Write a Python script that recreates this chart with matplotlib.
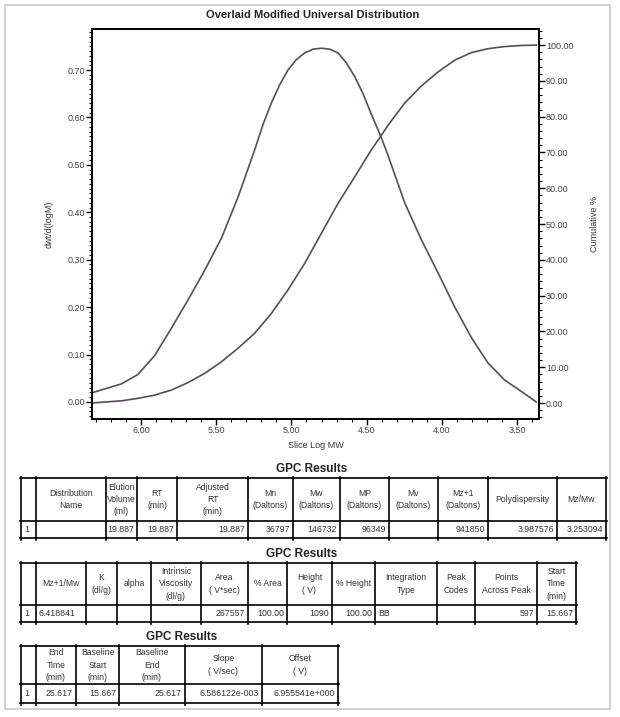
import matplotlib.pyplot as plt
import numpy as np
from matplotlib.ticker import MultipleLocator, FormatStrFormatter
from matplotlib.lines import Line2D
from matplotlib.patches import Rectangle

plt.rcParams['font.family'] = ['Liberation Sans', 'DejaVu Sans']

# Data
dist_logmw = [6.319, 6.131, 6.020, 5.909, 5.799, 5.688, 5.576, 5.466, 5.355, 5.244,
              5.189, 5.134, 5.078, 5.023, 4.967, 4.912, 4.856, 4.801, 4.745, 4.690,
              4.635, 4.579, 4.524, 4.469, 4.402, 4.358, 4.300, 4.247, 4.136, 4.025,
              3.914, 3.804, 3.693, 3.582, 3.471, 3.372]
dist_value = [0.020, 0.038, 0.058, 0.098, 0.155, 0.215, 0.278, 0.345, 0.432, 0.532,
              0.585, 0.630, 0.669, 0.700, 0.722, 0.736, 0.744, 0.746, 0.744, 0.736,
              0.715, 0.686, 0.650, 0.607, 0.557, 0.520, 0.468, 0.420, 0.342, 0.272,
              0.200, 0.136, 0.082, 0.046, 0.022, 0.000]

cum_logmw = [6.332, 6.131, 6.020, 5.909, 5.799, 5.688, 5.576, 5.466, 5.355, 5.244,
             5.134, 5.023, 4.912, 4.801, 4.690, 4.579, 4.469, 4.402, 4.358, 4.247,
             4.136, 4.025, 3.914, 3.804, 3.693, 3.582, 3.471, 3.372]
cum_pct = [0.0, 0.6, 1.3, 2.2, 3.6, 5.7, 8.3, 11.5, 15.3, 19.5,
           25.0, 31.6, 39.0, 47.4, 55.8, 63.2, 70.7, 74.8, 77.6, 83.8,
           88.6, 92.5, 95.8, 97.9, 99.0, 99.6, 99.9, 100.0]

# GPC result tables
t1_headers = ["", "Distribution\nName", "Elution\nVolume\n(ml)", "RT\n(min)", "Adjusted\nRT\n(min)",
              "Mn\n(Daltons)", "Mw\n(Daltons)", "MP\n(Daltons)", "Mv\n(Daltons)",
              "Mz+1\n(Daltons)", "Polydispersity", "Mz/Mw"]
t1_row = ["1", "", "19.887", "19.887", "19.887", "36797", "146732", "96349", "",
          "941850", "3.987576", "3.253094"]

t2_headers = ["", "Mz+1/Mw", "K\n(dl/g)", "alpha", "Intrinsic\nViscosity\n(dl/g)", "Area\n( V*sec)",
              "% Area", "Height\n( V)", "% Height", "Integration\nType", "Peak\nCodes",
              "Points\nAcross Peak", "Start\nTime\n(min)"]
t2_row = ["1", "6.418841", "", "", "", "267557", "100.00", "1090", "100.00", "BB", "",
          "597", "15.667"]

t3_headers = ["", "End\nTime\n(min)", "Baseline\nStart\n(min)", "Baseline\nEnd\n(min)",
              "Slope\n( V/sec)", "Offset\n( V)"]
t3_row = ["1", "25.617", "15.667", "25.617", "6.586122e-003", "6.955541e+000"]

W, H = 620, 717
fig = plt.figure(figsize=(W / 100, H / 100), dpi=100)


def fx(x):
    return x / W


def fy(y):
    return 1 - y / H


# page frame
fig.add_artist(Rectangle((fx(5), fy(709)), fx(605), (704) / H, fill=False,
                         edgecolor='#c8c8c8', lw=1.2, transform=fig.transFigure))

line_col = '#5a4a5c'
ax = fig.add_axes([fx(92), fy(419), fx(539 - 92), (419 - 29) / H])
ax.plot(dist_logmw, dist_value, color=line_col, lw=1.2)
ax.set_xlim(6.326, 3.354)
ax.xaxis.set_major_locator(MultipleLocator(0.5))
ax.xaxis.set_minor_locator(MultipleLocator(0.1))
ax.yaxis.set_major_locator(MultipleLocator(0.1))
ax.yaxis.set_minor_locator(MultipleLocator(0.01))
ax.xaxis.set_major_formatter(FormatStrFormatter('%.2f'))
ax.yaxis.set_major_formatter(FormatStrFormatter('%.2f'))
ax.set_ylim(-0.036, 0.7865)
ax.tick_params(which='major', direction='out', length=4, width=1, labelsize=6.5,
               labelcolor='#444444', pad=1)
ax.tick_params(which='minor', direction='out', length=2, width=0.8)
ax.set_xlabel('Slice Log MW', fontsize=6.5, color='#333333', labelpad=4)
ax.set_ylabel('dwt/d(logM)', fontsize=6.5, color='#333333', labelpad=10)
for s in ax.spines.values():
    s.set_linewidth(1.3)

ax2 = ax.twinx()
ax2.plot(cum_logmw, cum_pct, color=line_col, lw=1.2)
ax2.set_ylim(-4.47, 104.5)
ax2.yaxis.set_major_locator(MultipleLocator(10))
ax2.yaxis.set_minor_locator(MultipleLocator(2))
ax2.yaxis.set_major_formatter(FormatStrFormatter('%.2f'))
ax2.tick_params(which='major', direction='out', length=4, width=1, labelsize=6.5,
                labelcolor='#444444', pad=1)
ax2.tick_params(which='minor', direction='out', length=2, width=0.8)
ax2.set_ylabel('Cumulative %', fontsize=6.5, color='#333333', labelpad=12)
for s in ax2.spines.values():
    s.set_linewidth(1.3)

fig.text(fx(313), fy(15), 'Overlaid Modified Universal Distribution', ha='center', va='center',
         fontsize=8, fontweight='bold', color='#222222')


def draw_table(edges, top, mid, bottom, headers, row, left_cols, title, title_x, title_y):
    fig.text(fx(title_x), fy(title_y), title, ha='center', va='center', fontsize=8.5,
             fontweight='bold', color='#222222')
    for y in (top, mid, bottom):
        fig.add_artist(Line2D([fx(edges[0] - 1), fx(edges[-1] + 1)], [fy(y), fy(y)],
                              color='black', lw=1.2))
    for x in edges:
        fig.add_artist(Line2D([fx(x), fx(x)], [fy(top - 1.5), fy(bottom + 1.5)],
                              color='black', lw=1.2))
    for i, h in enumerate(headers):
        cx = (edges[i] + edges[i + 1]) / 2
        fig.text(fx(cx), fy((top + mid) / 2), h, ha='center', va='center', fontsize=6.2,
                 linespacing=1.45, color='#333333')
    for i, v in enumerate(row):
        cy = fy((mid + bottom) / 2)
        if i == 0 or i in left_cols:
            fig.text(fx(edges[i] + 3), cy, v, ha='left', va='center', fontsize=6.3, color='#333333')
        else:
            fig.text(fx(edges[i + 1] - 3), cy, v, ha='right', va='center', fontsize=6.3,
                     color='#333333')


draw_table([21, 36, 106, 137, 177, 248, 293, 340, 389, 438, 488, 557, 606],
           478, 521, 538, t1_headers, t1_row, [], 'GPC Results', 312, 469)
draw_table([21, 36, 86, 117, 151, 201, 248, 287, 332, 375, 437, 475, 537, 576],
           563, 605, 622, t2_headers, t2_row, [1, 9], 'GPC Results', 302, 554)
draw_table([21, 36, 76, 119, 185, 262, 338],
           646, 684, 703, t3_headers, t3_row, [], 'GPC Results', 182, 637)

fig.savefig('out.png', dpi=100)
